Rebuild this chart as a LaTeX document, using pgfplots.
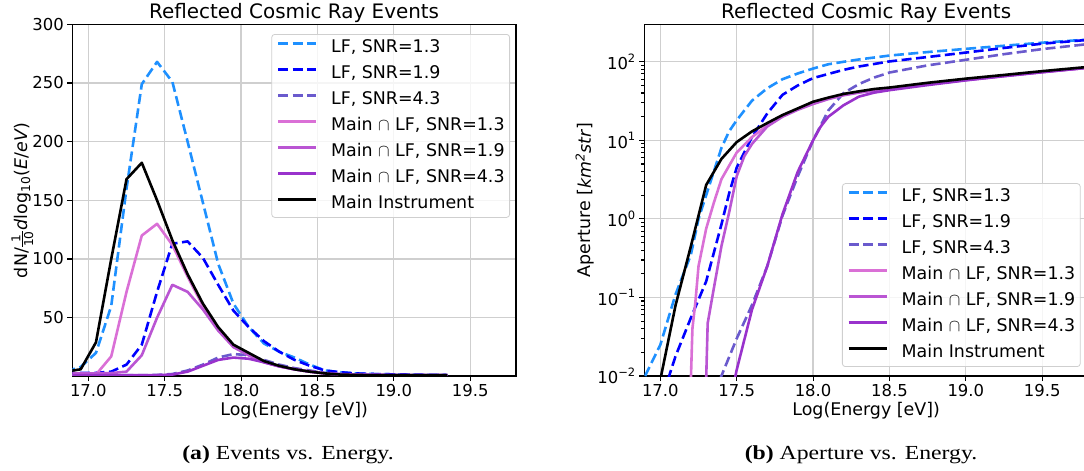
\documentclass[border=0pt]{standalone}
\usepackage{fontspec}
\setmainfont{DejaVu Sans}
\newfontfamily\capfont[FakeStretch=1.19]{Liberation Serif}
\usepackage{amsmath}
\usepackage{pgfplots}
\pgfplotsset{compat=1.18}

\definecolor{c1}{HTML}{1E90FF}
\definecolor{c2}{HTML}{0000FF}
\definecolor{c3}{HTML}{6A5ACD}
\definecolor{c4}{HTML}{DA70D6}
\definecolor{c5}{HTML}{BA55D3}
\definecolor{c6}{HTML}{9932CC}
\definecolor{gridc}{HTML}{CFCFCF}

\pgfplotsset{
 every axis title shift=0pt,
 mystyle/.style={
  scale only axis, width=443.7bp, height=351.7bp,
  xmin=16.895, xmax=19.8,
  xtick={17,17.5,18,18.5,19,19.5},
  xticklabels={17.0,17.5,18.0,18.5,19.0,19.5},
  /pgf/number format/assume math mode=true,
  tick pos=left, tick align=outside,
  major tick length=5bp, minor tick length=3bp,
  grid=major, major grid style={gridc, line width=1.2bp},
  axis line style={line width=1.1bp},
  every tick/.style={black, line width=1.1bp},
  ticklabel style={font=\fontsize{16.5}{19}\selectfont},
  label style={font=\fontsize{17.5}{21}\selectfont},
  title style={font=\fontsize{20}{24}\selectfont, at={(axis description cs:0.5,1.0156)}, anchor=base},
  title={Reflected Cosmic Ray Events},
  xlabel={Log(Energy [eV])},
  xlabel style={at={(axis description cs:0.5,-0.1137)}, anchor=base},
  legend cell align=left,
  legend style={font=\fontsize{17.5}{21}\selectfont, draw=gridc, rounded corners=3bp,
     fill=white, fill opacity=0.8, draw opacity=1, text opacity=1, line width=0.8bp,
     nodes={inner sep=0bp, text height=13bp, text depth=4bp},
     row sep=9bp, column sep=13.7bp, inner xsep=5bp, inner ysep=5bp},
  legend image code/.code={\draw[##1] (0bp,4.5bp) -- (38bp,4.5bp);},
  every axis plot/.append style={line width=2.6bp, line join=round},
 },
 lfdash/.style={dash pattern=on 10bp off 4.5bp},
}

\begin{document}
\begin{tikzpicture}
\begin{axis}[mystyle, at={(72.3bp,95bp)}, anchor=south west,
  ymin=0.3, ymax=300, ytick={50,100,150,200,250,300},
  yticklabels={50,100,150,200,250,300},
  ylabel={dN/$\frac{\text{1}}{\text{10}}$\textit{d}log$_{\text{10}}$(\textit{E}/\textit{eV})},
  ylabel style={at={(axis description cs:-0.1127,0.5)}, anchor=center},
  legend style={at={(0.9865,0.9724)}, anchor=north east},
]
\addplot[c1, lfdash] coordinates {
(16.85,4)(16.95,8)(17.05,20)(17.15,60)(17.25,160)(17.35,249)(17.45,268)(17.55,251)(17.65,200)(17.75,148)(17.85,96)(17.95,62)(18.05,42)(18.15,28)(18.25,21)(18.35,16)(18.45,10)(18.55,5)(18.65,3.5)(18.75,2.5)(18.85,2)(18.95,1.8)(19.05,1.5)(19.15,1.3)(19.25,1.2)(19.35,1.1)};
\addlegendentry{LF, SNR=1.3}
\addplot[c2, lfdash] coordinates {
(16.85,3)(16.95,3)(17.05,3)(17.15,4)(17.25,10)(17.35,27)(17.45,72)(17.55,113)(17.65,115)(17.75,101)(17.85,78)(17.95,56)(18.05,42)(18.15,30)(18.25,21)(18.35,14)(18.45,9)(18.55,5)(18.65,3.5)(18.75,2.5)(18.85,2)(18.95,1.8)(19.05,1.6)(19.15,1.4)(19.25,1.2)(19.35,1.1)};
\addlegendentry{LF, SNR=1.9}
\addplot[c3, lfdash] coordinates {
(16.85,1)(16.95,1)(17.05,1)(17.15,1)(17.25,1)(17.35,1)(17.45,1.2)(17.55,2)(17.65,5)(17.75,10)(17.85,16)(17.95,19)(18.05,18)(18.15,14)(18.25,10)(18.35,7)(18.45,5)(18.55,3)(18.65,2)(18.75,1.5)(18.85,1.3)(18.95,1.2)(19.05,1.1)(19.15,1)(19.25,1)(19.35,1)};
\addlegendentry{LF, SNR=4.3}
\addplot[c4] coordinates {
(16.85,1)(16.95,1)(17.05,1.5)(17.15,17)(17.25,72)(17.35,120)(17.45,130)(17.55,112)(17.65,85)(17.75,60)(17.85,40)(17.95,25)(18.05,18)(18.15,12)(18.25,8.5)(18.35,6)(18.45,4)(18.55,2.5)(18.65,1.8)(18.75,1.4)(18.85,1.2)(18.95,1.1)(19.05,1)(19.15,1)(19.25,1)(19.35,1)};
\addlegendentry{Main $\cap$ LF, SNR=1.3}
\addplot[c5] coordinates {
(16.85,2.5)(16.95,2.5)(17.05,2.5)(17.15,2.8)(17.25,4)(17.35,18)(17.45,50)(17.55,78)(17.65,72)(17.75,57)(17.85,39)(17.95,25)(18.05,18)(18.15,12)(18.25,8.5)(18.35,6)(18.45,4)(18.55,2.5)(18.65,1.8)(18.75,1.4)(18.85,1.2)(18.95,1.1)(19.05,1)(19.15,1)(19.25,1)(19.35,1)};
\addlegendentry{Main $\cap$ LF, SNR=1.9}
\addplot[c6] coordinates {
(16.85,1)(16.95,1)(17.05,1)(17.15,1)(17.25,1)(17.35,1)(17.45,1.1)(17.55,1.5)(17.65,4)(17.75,9)(17.85,14)(17.95,16)(18.05,15)(18.15,12)(18.25,8.5)(18.35,6)(18.45,4)(18.55,2.5)(18.65,1.5)(18.75,1.2)(18.85,1.1)(18.95,1)(19.05,1)(19.15,1)(19.25,1)(19.35,1)};
\addlegendentry{Main $\cap$ LF, SNR=4.3}
\addplot[black] coordinates {
(16.85,4)(16.95,6)(17.05,29)(17.15,100)(17.25,168)(17.35,182)(17.45,150)(17.55,116)(17.65,87)(17.75,62)(17.85,42)(17.95,27)(18.05,20)(18.15,13)(18.25,9)(18.35,6)(18.45,4)(18.55,2.5)(18.65,1.5)(18.75,1.2)(18.85,1)(18.95,1)(19.05,1)(19.15,1)(19.25,1)(19.35,1)};
\addlegendentry{Main Instrument}
\end{axis}

\begin{axis}[mystyle, at={(644.3bp,95bp)}, anchor=south west,
  ymode=log, ymin=0.01, ymax=300,
  ytick={0.01,0.1,1,10,100},
  yticklabels={$\text{10}^{\text{−2}}$,$\text{10}^{\text{−1}}$,$\text{10}^{\text{0}}$,$\text{10}^{\text{1}}$,$\text{10}^{\text{2}}$},
  ylabel={Aperture [\textit{km}$^{\text{\textit{2}}}$\textit{str}]},
  ylabel style={at={(axis description cs:-0.1337,0.5)}, anchor=center},
  legend style={at={(0.9834,0.0256)}, anchor=south east},
]
\addplot[c1, lfdash] coordinates {
(16.9,0.01)(17.0,0.025)(17.1,0.11)(17.2,0.35)(17.25,1.0)(17.3,2.0)(17.35,4.0)(17.4,8)(17.45,13)(17.5,18)(17.6,32)(17.7,46)(17.8,60)(17.9,71)(18.0,82)(18.1,93)(18.2,100)(18.3,107)(18.5,120)(18.75,133)(19.0,146)(19.25,160)(19.5,175)(19.8,192)};
\addlegendentry{LF, SNR=1.3}
\addplot[c2, lfdash] coordinates {
(17.05,0.009)(17.1,0.018)(17.2,0.055)(17.3,0.16)(17.4,0.85)(17.45,2.1)(17.5,4.5)(17.6,11)(17.7,22)(17.8,38)(17.9,50)(18.0,62)(18.1,70)(18.2,79)(18.3,87)(18.5,101)(18.75,115)(19.0,131)(19.25,150)(19.5,170)(19.8,190)};
\addlegendentry{LF, SNR=1.9}
\addplot[c3, lfdash] coordinates {
(17.39,0.009)(17.5,0.03)(17.6,0.08)(17.7,0.25)(17.8,1.1)(17.9,3.5)(18.0,10)(18.1,24)(18.2,40)(18.3,52)(18.4,63)(18.5,73)(18.75,90)(19.0,106)(19.25,125)(19.5,145)(19.8,168)};
\addlegendentry{LF, SNR=4.3}
\addplot[c4] coordinates {
(17.2,0.009)(17.21,0.04)(17.23,0.09)(17.25,0.25)(17.3,0.75)(17.35,1.6)(17.4,3.2)(17.5,7)(17.6,11)(17.7,15.5)(17.8,20.5)(17.9,25)(18.0,29.5)(18.1,34)(18.2,38)(18.3,41)(18.4,43.5)(18.5,45.5)(18.75,52)(19.0,59)(19.25,66)(19.5,74)(19.8,84)};
\addlegendentry{Main $\cap$ LF, SNR=1.3}
\addplot[c5] coordinates {
(17.3,0.009)(17.31,0.047)(17.35,0.13)(17.4,0.45)(17.45,1.2)(17.5,3.5)(17.55,6.3)(17.6,9)(17.7,15)(17.8,20)(17.9,24.5)(18.0,29)(18.1,33.5)(18.2,37.5)(18.3,40.5)(18.4,43)(18.5,45)(18.75,51.5)(19.0,58.5)(19.25,66)(19.5,74)(19.8,84)};
\addlegendentry{Main $\cap$ LF, SNR=1.9}
\addplot[c6] coordinates {
(17.487,0.009)(17.5,0.012)(17.6,0.07)(17.7,0.25)(17.8,1.15)(17.9,4)(18.0,10)(18.05,15)(18.1,20)(18.2,28)(18.3,36)(18.4,40.5)(18.5,43.5)(18.75,50.5)(19.0,58)(19.25,65.5)(19.5,73.5)(19.8,84)};
\addlegendentry{Main $\cap$ LF, SNR=4.3}
\addplot[black] coordinates {
(17.0,0.009)(17.1,0.08)(17.2,0.45)(17.3,2.7)(17.4,5.8)(17.5,9.5)(17.6,13)(17.7,16.6)(17.8,21)(17.9,25.5)(18.0,31)(18.1,35)(18.2,39)(18.3,42)(18.4,45)(18.5,47)(18.75,54)(19.0,61)(19.25,68)(19.5,76)(19.8,86)};
\addlegendentry{Main Instrument}
\end{axis}

\node[anchor=base, font=\capfont\fontsize{20}{24}\selectfont] at (288bp,12bp) {\textbf{(a)} Events vs. Energy.};
\node[anchor=base, font=\capfont\fontsize{20}{24}\selectfont] at (861bp,12bp) {\textbf{(b)} Aperture vs. Energy.};

\pgfresetboundingbox
\path[use as bounding box] (0,0) rectangle (1084bp,471bp);
\end{tikzpicture}
\end{document}
